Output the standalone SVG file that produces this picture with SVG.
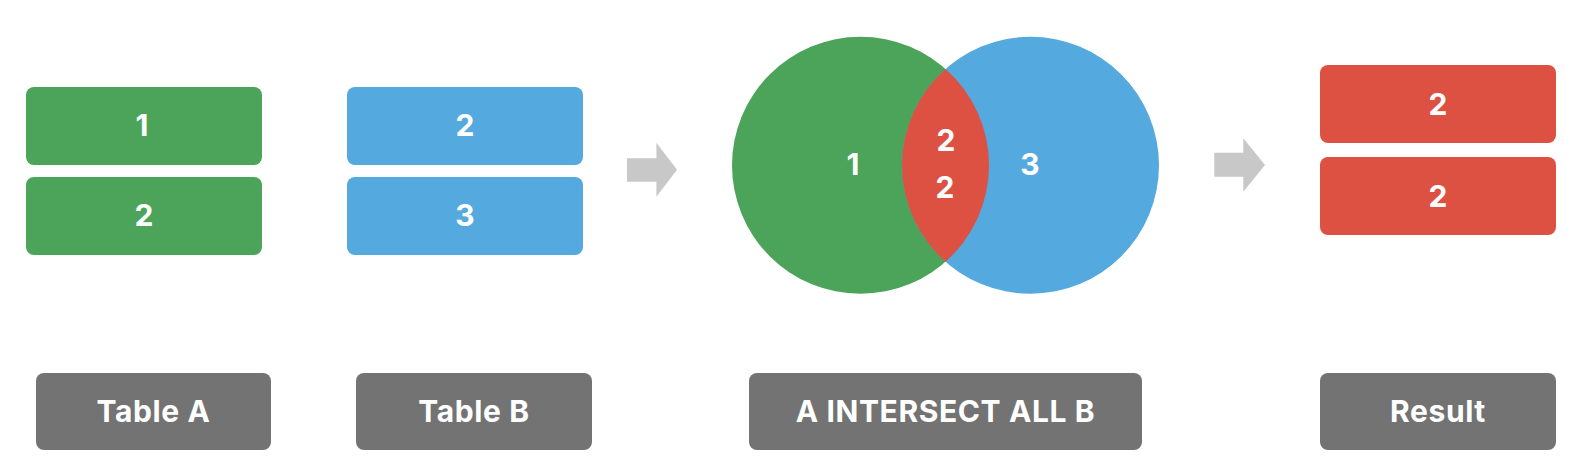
<svg xmlns="http://www.w3.org/2000/svg" width="1592" height="476" viewBox="0 0 1592 476">
<style>
.g{fill:#4BA45A}.b{fill:#54A9DE}.r{fill:#DD5143}.k{fill:#737373}.ar{fill:#C8C8C8}
.n{font-family:Inter,"Liberation Sans",sans-serif;font-weight:700;font-size:30px;fill:#fff;text-anchor:middle;dominant-baseline:central}
.l{font-family:Inter,"Liberation Sans",sans-serif;font-weight:700;font-size:30px;letter-spacing:0.6px;fill:#fff;text-anchor:middle;dominant-baseline:central}
</style>
<rect width="1592" height="476" fill="#fff"/>
<g id="tableA">
<rect class="g" x="26" y="87" width="236" height="78" rx="8"/>
<text class="n" x="142" y="125">1</text>
<rect class="g" x="26" y="177" width="236" height="78" rx="8"/>
<text class="n" x="144" y="215">2</text>
</g>
<g id="tableB">
<rect class="b" x="347" y="87" width="236" height="78" rx="8"/>
<text class="n" x="465" y="125">2</text>
<rect class="b" x="347" y="177" width="236" height="78" rx="8"/>
<text class="n" x="465" y="215">3</text>
</g>
<g id="venn">
<circle class="g" cx="860.5" cy="165.3" r="128.5"/>
<circle class="b" cx="1030.5" cy="165.3" r="128.5"/>
<path class="r" d="M945.5 68.9 A128.5 128.5 0 0 1 945.5 261.7 A128.5 128.5 0 0 1 945.5 68.9 Z"/>
<text class="n" x="853" y="164">1</text>
<text class="n" x="1030" y="164">3</text>
<text class="n" x="946" y="140">2</text>
<text class="n" x="945" y="187">2</text>
</g>
<g id="result">
<rect class="r" x="1320" y="65" width="236" height="78" rx="8"/>
<text class="n" x="1438" y="104">2</text>
<rect class="r" x="1320" y="157" width="236" height="78" rx="8"/>
<text class="n" x="1438" y="196">2</text>
</g>
<g id="labels">
<g id="labelA"><rect class="k" x="36" y="373" width="235" height="77" rx="8"/><text class="l" x="153.5" y="411">Table A</text></g>
<g id="labelB"><rect class="k" x="356" y="373" width="236" height="77" rx="8"/><text class="l" x="474" y="411">Table B</text></g>
<g id="labelOp"><rect class="k" x="749" y="373" width="393" height="77" rx="8"/><text class="l" x="945.5" y="411">A INTERSECT ALL B</text></g>
<g id="labelResult"><rect class="k" x="1320" y="373" width="236" height="77" rx="8"/><text class="l" x="1438" y="411">Result</text></g>
</g>
<g id="connectors">
<path class="ar" d="M627 158.3 H656.4 V142.7 L677 169.7 L656.4 196.7 V181.7 H627 Z"/>
<path class="ar" d="M1214.3 152.7 H1243.3 V138.3 L1265 165 L1243.3 191.7 V176.7 H1214.3 Z"/>
</g>
</svg>
